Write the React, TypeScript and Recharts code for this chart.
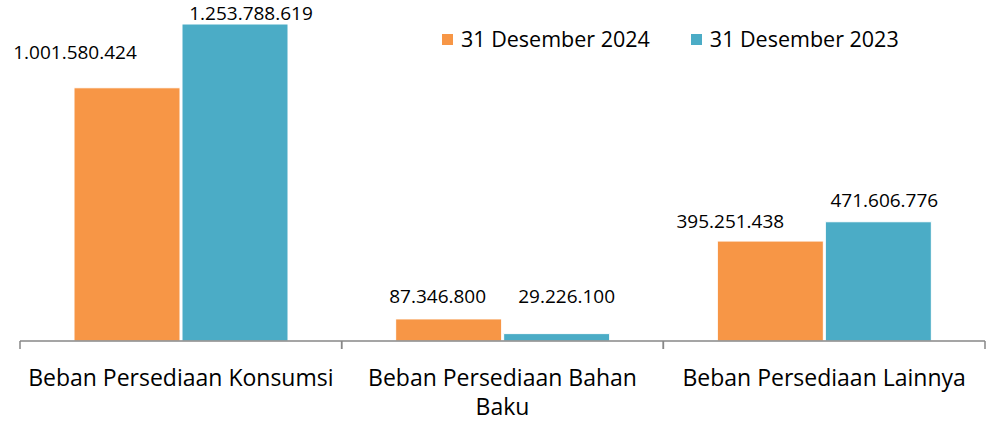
import React from "react";
import { BarChart, Bar, XAxis, YAxis, LabelList } from "recharts";

const categories = [
  "Beban Persediaan Konsumsi",
  "Beban Persediaan Bahan Baku",
  "Beban Persediaan Lainnya",
];
const values2024 = [1001580424, 87346800, 395251438];
const values2023 = [1253788619, 29226100, 471606776];
const seriesNames = ["31 Desember 2024", "31 Desember 2023"];

const COLORS = ["#F79646", "#4BACC6"];
const FONT = "'Open Sans', sans-serif";
const LABEL_OFFSETS_2024 = [[-52, -36], [-11, -23], [-40, -20]];
const LABEL_OFFSETS_2023 = [[16, -11], [10, -38], [6, -22]];

const data = categories.map((c, i) => ({ name: c, v2024: values2024[i], v2023: values2023[i] }));

const fmt = (v: number) => String(Math.round(v)).replace(/\B(?=(\d{3})+(?!\d))/g, ".");

const wrap = (s: string, max: number) => {
  const words = s.split(" ");
  const lines: string[] = [];
  let cur = "";
  for (const w of words) {
    const t = cur ? cur + " " + w : w;
    if (t.length > max && cur) {
      lines.push(cur);
      cur = w;
    } else cur = t;
  }
  if (cur) lines.push(cur);
  return lines;
};

const makeLabel = (offsets: number[][]) => (props: any) => {
  const { x, y, width, value, index } = props;
  const [dx, dy] = offsets[index] || [0, -10];
  return (
    <text
      x={Number(x) + Number(width) / 2 + dx}
      y={Number(y) + dy}
      textAnchor="middle"
      dominantBaseline="central"
      fontFamily={FONT}
      fontSize={19}
      fill="#000"
    >
      {fmt(Number(value))}
    </text>
  );
};

const Tick = (props: any) => {
  const { x, y, payload, width, visibleTicksCount } = props;
  const bw = Number(width) / Number(visibleTicksCount || 3);
  const lines = wrap(String(payload.value), 25);
  return (
    <g>
      <line x1={x - bw / 2} x2={x - bw / 2} y1={y - 8} y2={y} stroke="#878787" strokeWidth={1.5} />
      <line x1={x + bw / 2} x2={x + bw / 2} y1={y - 8} y2={y} stroke="#878787" strokeWidth={1.5} />
      {lines.map((l, i) => (
        <text
          key={i}
          x={x}
          y={y + 28 + i * 29}
          textAnchor="middle"
          dominantBaseline="central"
          fontFamily={FONT}
          fontSize={23}
          fill="#000"
        >
          {l}
        </text>
      ))}
    </g>
  );
};

const LegendContent = () => (
  <div style={{ display: "flex", alignItems: "center", fontFamily: FONT, fontSize: 21.5, color: "#000", whiteSpace: "nowrap" }}>
    {seriesNames.map((n, i) => (
      <div key={n} style={{ display: "flex", alignItems: "center", marginRight: i === 0 ? 41 : 0 }}>
        <div style={{ width: 11, height: 11, background: COLORS[i], marginRight: 8 }} />
        <span style={{ lineHeight: "24px" }}>{n}</span>
      </div>
    ))}
  </div>
);

export default function App() {
  return (
    <div style={{ position: "absolute", left: 0, top: 0, width: 990, height: 423, background: "#fff" }}>
      <BarChart
        width={990}
        height={423}
        data={data}
        margin={{ top: 24, right: 5, bottom: 0, left: 20 }}
        barSize={106}
        barGap={2}
      >
        <XAxis
          dataKey="name"
          height={82}
          interval={0}
          axisLine={{ stroke: "#878787", strokeWidth: 1.5 }}
          tickLine={false}
          tick={<Tick />}
        />
        <YAxis hide domain={[0, "dataMax"]} />
        <Bar dataKey="v2024" name={seriesNames[0]} fill={COLORS[0]} stroke="#fff" strokeWidth={1} isAnimationActive={false}>
          <LabelList dataKey="v2024" content={makeLabel(LABEL_OFFSETS_2024)} />
        </Bar>
        <Bar dataKey="v2023" name={seriesNames[1]} fill={COLORS[1]} stroke="#fff" strokeWidth={1} isAnimationActive={false}>
          <LabelList dataKey="v2023" content={makeLabel(LABEL_OFFSETS_2023)} />
        </Bar>
      </BarChart>
      <div style={{ position: "absolute", top: 27, left: 442 }}>
        <LegendContent />
      </div>
    </div>
  );
}
